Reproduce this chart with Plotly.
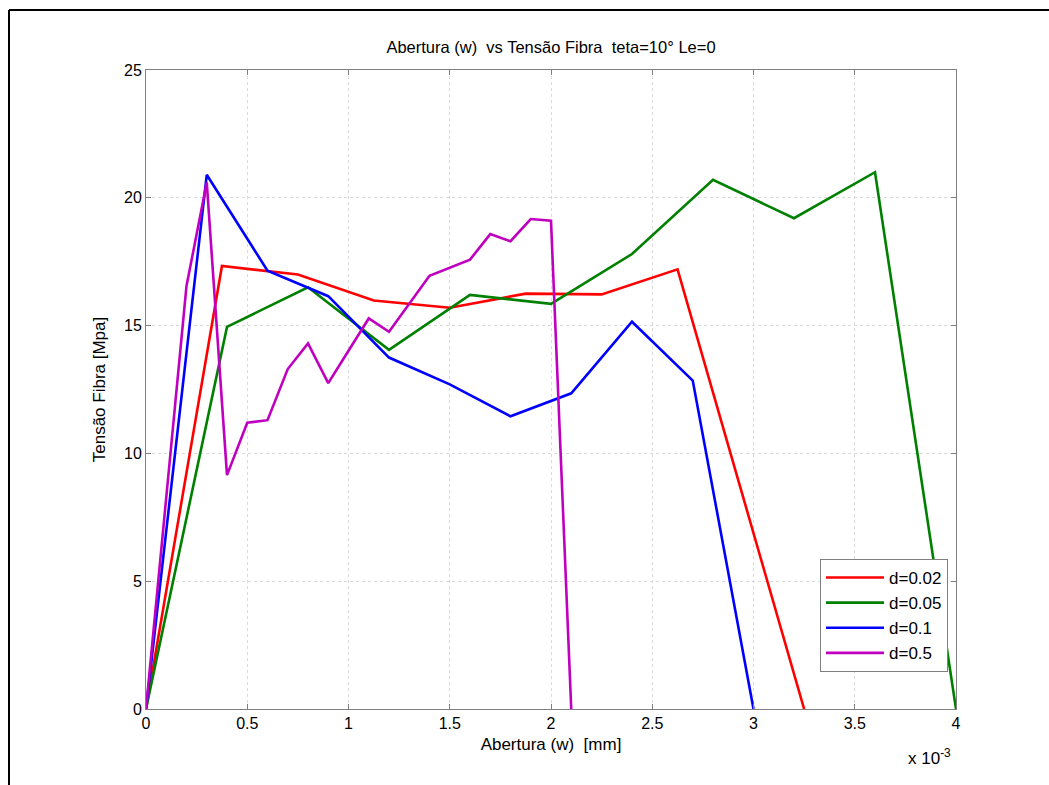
import plotly.graph_objects as go

# x in mm (axis shown in units of 1e-3)
red_x = [0, 0.375e-3, 0.75e-3, 1.125e-3, 1.5e-3, 1.875e-3, 2.25e-3, 2.625e-3, 3.25e-3]
red_y = [0, 17.33, 17.0, 15.98, 15.7, 16.25, 16.22, 17.2, 0]

green_x = [0, 0.4e-3, 0.8e-3, 1.2e-3, 1.6e-3, 2.0e-3, 2.4e-3, 2.8e-3, 3.2e-3, 3.6e-3, 4.0e-3]
green_y = [0, 14.95, 16.5, 14.05, 16.2, 15.85, 17.8, 20.7, 19.2, 21.0, 0]

blue_x = [0, 0.3e-3, 0.6e-3, 0.9e-3, 1.2e-3, 1.5e-3, 1.8e-3, 2.1e-3, 2.4e-3, 2.7e-3, 3.0e-3]
blue_y = [0, 20.9, 17.15, 16.15, 13.75, 12.7, 11.45, 12.35, 15.15, 12.85, 0]

mag_x = [0, 0.2e-3, 0.3e-3, 0.4e-3, 0.5e-3, 0.6e-3, 0.7e-3, 0.8e-3, 0.9e-3, 1.1e-3, 1.2e-3,
         1.4e-3, 1.6e-3, 1.7e-3, 1.8e-3, 1.9e-3, 2.0e-3, 2.1e-3]
mag_y = [0, 16.55, 20.6, 9.15, 11.2, 11.3, 13.3, 14.3, 12.75, 15.28, 14.76,
         16.95, 17.58, 18.58, 18.3, 19.17, 19.1, 0]

series_names = ["d=0.02", "d=0.05", "d=0.1", "d=0.5"]
series_colors = ["#ff0000", "#008000", "#0000ff", "#bf00bf"]

x_tickvals = [0, 0.5e-3, 1e-3, 1.5e-3, 2e-3, 2.5e-3, 3e-3, 3.5e-3, 4e-3]
x_ticktext = ["0", "0.5", "1", "1.5", "2", "2.5", "3", "3.5", "4"]
y_tickvals = [0, 5, 10, 15, 20, 25]

fig = go.Figure()
data = [(red_x, red_y), (green_x, green_y), (blue_x, blue_y), (mag_x, mag_y)]
for i, ((xs, ys), name, col) in enumerate(zip(data, series_names, series_colors)):
    fig.add_trace(go.Scatter(x=xs, y=ys, mode="lines", name=name, legendgroup=f"g{i}",
                             line=dict(color=col, width=2.6)))

font_family = "Liberation Sans, Arial, sans-serif"
axis_common = dict(
    showline=True, linecolor="#808080", linewidth=1, mirror="ticks",
    ticks="inside", ticklen=5, tickcolor="#808080",
    showgrid=True, gridcolor="#d9d9d9", griddash="dot", gridwidth=1,
    zeroline=False, tickfont=dict(size=16, color="black", family=font_family),
)

fig.update_layout(
    width=1049, height=785,
    margin=dict(l=146, r=93, t=70, b=76),
    paper_bgcolor="white", plot_bgcolor="white",
    font=dict(family=font_family, color="black"),
    title=dict(text="Abertura (w) \u00a0vs Tensão Fibra \u00a0teta=10° Le=0",
               x=551 / 1049, xanchor="center", y=1 - 47 / 785, yanchor="middle",
               font=dict(size=16.5, color="black")),
    xaxis=dict(range=[0, 4e-3], tickvals=x_tickvals, ticktext=x_ticktext,
               title=dict(text="Abertura (w) \u00a0[mm]", font=dict(size=17), standoff=6),
               **axis_common),
    yaxis=dict(range=[0, 25], tickvals=y_tickvals,
               title=dict(text="Tensão Fibra [Mpa]", font=dict(size=17), standoff=14),
               **axis_common),
    showlegend=True,
    legend=dict(x=(948 - 146) / 810, xanchor="right", y=(709 - 672) / 639, yanchor="bottom",
                bordercolor="#808080", borderwidth=1, bgcolor="white",
                font=dict(size=17, color="black"), tracegroupgap=0,
                itemwidth=58),
)

# exponent label
fig.add_annotation(text="x 10<sup>-3</sup>", xref="paper", yref="paper",
                   x=(929 - 146) / 810, y=(709 - 757) / 639, xanchor="center", yanchor="middle",
                   showarrow=False, font=dict(size=17, color="black"))

# figure window border
fig.add_shape(type="line", xref="paper", yref="paper",
              x0=(9 - 146) / 810, x1=(1049 - 146) / 810, y0=(709 - 10) / 639, y1=(709 - 10) / 639,
              line=dict(color="black", width=2))
fig.add_shape(type="line", xref="paper", yref="paper",
              x0=(9 - 146) / 810, x1=(9 - 146) / 810, y0=(709 - 10) / 639, y1=(709 - 786) / 639,
              line=dict(color="black", width=2))

fig.write_html("out.html")
